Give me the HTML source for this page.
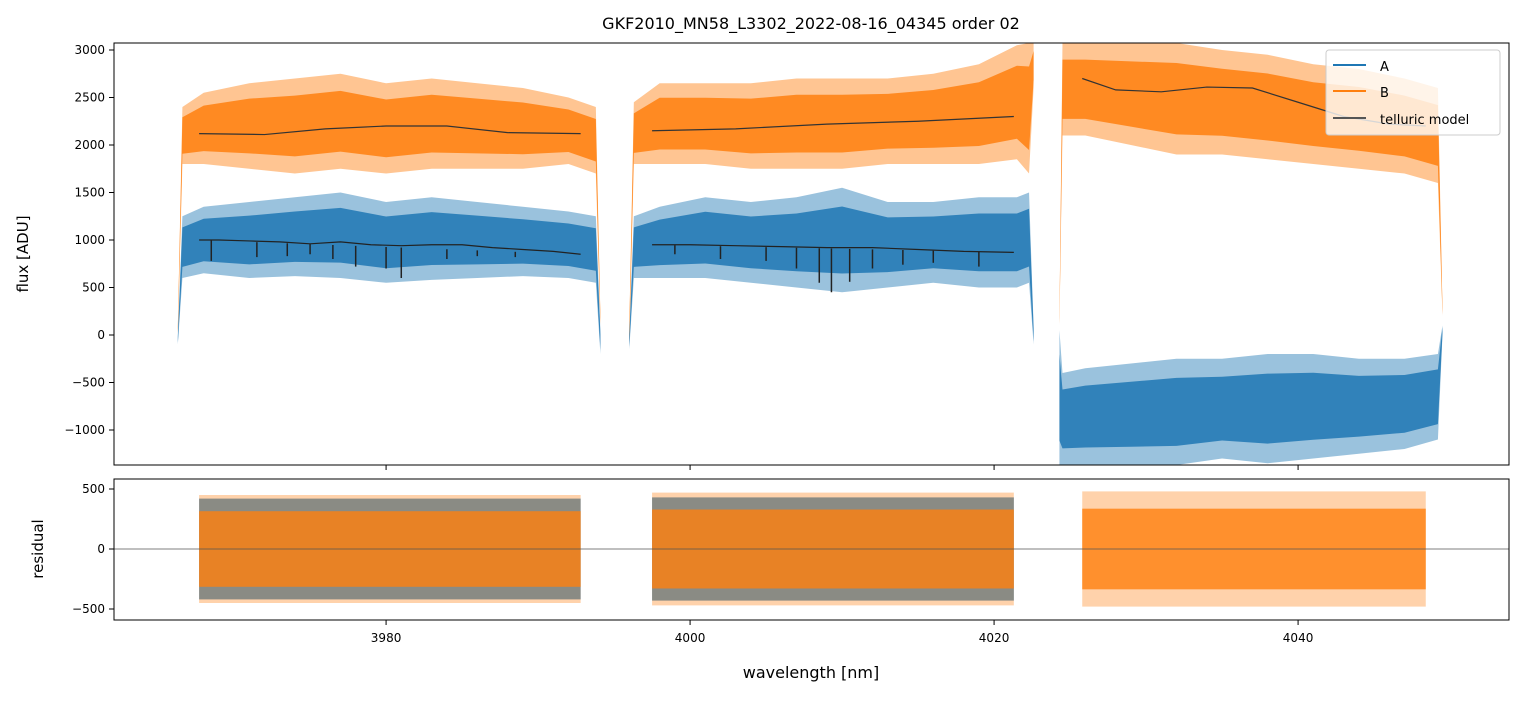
<!DOCTYPE html>
<html><head><meta charset="utf-8">
<style>
body{margin:0;background:#fff;font-family:"Liberation Sans","DejaVu Sans",sans-serif;}
svg text{font-family:"DejaVu Sans","Liberation Sans",sans-serif;}
</style></head>
<body>
<svg id="chart" width="1523" height="696" xmlns="http://www.w3.org/2000/svg">
<rect width="1523" height="696" fill="#fff"/>
<text x="811" y="29" font-size="16" text-anchor="middle">GKF2010_MN58_L3302_2022-08-16_04345  order 02</text>
<defs>
<clipPath id="clipTop"><rect x="114" y="43" width="1395" height="422"/></clipPath>
<clipPath id="clipBot"><rect x="114" y="479" width="1395" height="141"/></clipPath>
</defs>
<g id="gtop" clip-path="url(#clipTop)"></g>
<g id="gbot" clip-path="url(#clipBot)"></g>
<g id="axes"></g>
<text transform="translate(28,254) rotate(-90)" font-size="15" text-anchor="middle">flux [ADU]</text>
<text transform="translate(43,549) rotate(-90)" font-size="15" text-anchor="middle">residual</text>
<text x="811" y="678" font-size="16" text-anchor="middle">wavelength [nm]</text>
<g>
<rect x="1326" y="50" width="174" height="85" rx="3" fill="#fff" fill-opacity="0.8" stroke="#ccc"/>
<line x1="1333" y1="65" x2="1366" y2="65" stroke="#1f77b4" stroke-width="2"/>
<text x="1380" y="71" font-size="13">A</text>
<line x1="1333" y1="91" x2="1366" y2="91" stroke="#ff7f0e" stroke-width="2"/>
<text x="1380" y="97" font-size="13">B</text>
<line x1="1333" y1="118" x2="1366" y2="118" stroke="#555" stroke-width="2"/>
<text x="1380" y="124" font-size="13">telluric model</text>
</g>
</svg>
<script>
// ---- data ----
const seg1Wl=[3966.3,3966.6,3968,3971,3974,3977,3980,3983,3986,3989,3992,3993.8,3994.1];
const seg2Wl=[3996.0,3996.3,3998,4001,4004,4007,4010,4013,4016,4019,4021.5,4022.3,4022.6];
const seg3Wl=[4024.3,4024.5,4026,4029,4032,4035,4038,4041,4044,4047,4049.2,4049.5];
const aLo1=[-100,600,650,600,620,600,550,580,600,620,600,550,-200];
const aHi1=[0,1250,1350,1400,1450,1500,1400,1450,1400,1350,1300,1250,50];
const bLo1=[0,1800,1800,1750,1700,1750,1700,1750,1750,1750,1800,1700,100];
const bHi1=[100,2400,2550,2650,2700,2750,2650,2700,2650,2600,2500,2400,200];
const aLo2=[-150,600,600,600,550,500,450,500,550,500,500,550,-100];
const aHi2=[0,1250,1350,1450,1400,1450,1550,1400,1400,1450,1450,1500,100];
const bLo2=[-100,1800,1800,1800,1750,1750,1750,1800,1800,1800,1850,1700,2600];
const bHi2=[100,2450,2650,2650,2650,2700,2700,2700,2750,2850,3050,3074,3074];
const aLo3=[-1368,-1368,-1368,-1368,-1368,-1300,-1350,-1300,-1250,-1200,-1100,0];
const aHi3=[50,-400,-350,-300,-250,-250,-200,-200,-250,-250,-200,100];
const bLo3=[100,2100,2100,2000,1900,1900,1850,1800,1750,1700,1600,200];
const bHi3=[200,3074,3074,3074,3074,3000,2950,2850,2800,2700,2600,300];
const tB1Wl=[3967.7,3972,3976,3980,3984,3988,3992.8];
const tB1=[2120,2110,2170,2200,2200,2130,2120];
const tB2Wl=[3997.5,4003,4009,4015,4021.3];
const tB2=[2150,2170,2220,2250,2300];
const tB3Wl=[4025.8,4028,4031,4034,4037,4040,4043,4046,4048.4];
const tB3=[2700,2580,2560,2610,2600,2450,2300,2220,2200];
const tA1Wl=[3967.7,3969,3971,3973,3975,3977,3979,3981,3983,3985,3987,3989,3991,3992.8];
const tA1=[1000,1000,990,980,960,980,950,940,950,950,920,900,880,850];
const tA1DipWl=[3968.5,3971.5,3973.5,3975,3976.5,3978,3980,3981,3984,3986,3988.5];
const tA1Dip=[780,820,830,850,800,720,700,600,800,830,820];
const tA2Wl=[3997.5,4000,4003,4006,4009,4012,4015,4018,4021.3];
const tA2=[950,950,940,930,920,920,900,880,870];
const tA2DipWl=[3999,4002,4005,4007,4008.5,4009.3,4010.5,4012,4014,4016,4019];
const tA2Dip=[850,800,780,700,550,450,560,700,740,760,720];
const resWl=[[3967.7,3992.8],[3997.5,4021.3],[4025.8,4048.4]];
const resALim=[420,430,0];
const resBLim=[450,470,480];
const xTicks=[3980,4000,4020,4040];
const yTicksTop=[-1000,-500,0,500,1000,1500,2000,2500,3000];
const yTicksBot=[-500,0,500];
{
const X=w=>114+(w-3962.1)*15.2;
const YT=v=>335-v*0.095;
const YB=v=>549-v*0.12;
const NS='http://www.w3.org/2000/svg';
function mk(parent,tag,attrs){const e=document.createElementNS(NS,tag);for(const k in attrs)e.setAttribute(k,attrs[k]);parent.appendChild(e);return e;}
const gTop=document.getElementById('gtop'),gBot=document.getElementById('gbot'),axes=document.getElementById('axes');
function poly(g,wl,lo,hi,col,op,name){
  let p=wl.map((w,i)=>X(w)+','+YT(hi[i])).concat(wl.slice().reverse().map((w,i)=>X(w)+','+YT(lo[wl.length-1-i])));
  const e=mk(g,'polygon',{points:p.join(' '),fill:col,'fill-opacity':op});
  
  
}
function band(g,wl,lo,hi,col,name){
  poly(g,wl,lo,hi,col,0.45,name+'-envelope');
  const ilo=lo.map((l,i)=>l+(hi[i]-l)*0.18), ihi=hi.map((h,i)=>h-(h-lo[i])*0.18);
  poly(g,wl,ilo,ihi,col,0.85,name);
}
function line(g,wl,v,col,sw,name,ys){
  const e=mk(g,'polyline',{points:wl.map((w,i)=>X(w)+','+ys(v[i])).join(' '),fill:'none',stroke:col,'stroke-width':sw});
  
  
}
band(gTop,seg1Wl,bLo1,bHi1,'#ff7f0e','b-flux-segment-1');
band(gTop,seg2Wl,bLo2,bHi2,'#ff7f0e','b-flux-segment-2');
band(gTop,seg3Wl,bLo3,bHi3,'#ff7f0e','b-flux-segment-3');
band(gTop,seg1Wl,aLo1,aHi1,'#1f77b4','a-flux-segment-1');
band(gTop,seg2Wl,aLo2,aHi2,'#1f77b4','a-flux-segment-2');
band(gTop,seg3Wl,aLo3,aHi3,'#1f77b4','a-flux-segment-3');
line(gTop,tB1Wl,tB1,'#333',1.2,'telluric-b-1',YT);
line(gTop,tB2Wl,tB2,'#333',1.2,'telluric-b-2',YT);
line(gTop,tB3Wl,tB3,'#333',1.2,'telluric-b-3',YT);
line(gTop,tA1Wl,tA1,'#222',1.2,'telluric-a-1',YT);
line(gTop,tA2Wl,tA2,'#222',1.2,'telluric-a-2',YT);
[[tA1DipWl,tA1Dip,tA1Wl,tA1],[tA2DipWl,tA2Dip,tA2Wl,tA2]].forEach(([dw,dv,bw,bv])=>{
  dw.forEach((w,i)=>{
    const e=mk(gTop,'line',{x1:X(w),x2:X(w),y1:YT(bv[0]-(bv[0]-bv[bv.length-1])*(w-bw[0])/(bw[bw.length-1]-bw[0])),y2:YT(dv[i]),stroke:'#222','stroke-width':1.5});
    
    
  });
});
resWl.forEach((r,i)=>{
  if(resALim[i]>0){
    const a=mk(gBot,'rect',{x:X(r[0]),width:X(r[1])-X(r[0]),y:YB(resALim[i]),height:YB(-resALim[i])-YB(resALim[i]),fill:'#1f77b4','fill-opacity':0.8});
    
    
  }
  const bo=mk(gBot,'rect',{x:X(r[0]),width:X(r[1])-X(r[0]),y:YB(resBLim[i]),height:YB(-resBLim[i])-YB(resBLim[i]),fill:'#ff7f0e','fill-opacity':0.35});
  
  
  const b=mk(gBot,'rect',{x:X(r[0]),width:X(r[1])-X(r[0]),y:YB(resBLim[i]*0.7),height:YB(-resBLim[i]*0.7)-YB(resBLim[i]*0.7),fill:'#ff7f0e','fill-opacity':0.8});
  
  
});
const z=mk(gBot,'line',{x1:114,x2:1509,y1:YB(0),y2:YB(0),stroke:'#555','stroke-width':0.7});


[[43,465],[479,620]].forEach(([y0,y1])=>{
  const f=mk(axes,'rect',{x:114,y:y0,width:1395,height:y1-y0,fill:'none',stroke:'#000','stroke-width':1});
  
  
});
xTicks.forEach(t=>{
  mk(axes,'line',{x1:X(t),x2:X(t),y1:465,y2:470,stroke:'#000'});
  mk(axes,'line',{x1:X(t),x2:X(t),y1:620,y2:625,stroke:'#000'});
  const e=mk(axes,'text',{x:X(t),y:642,'font-size':12,'text-anchor':'middle'});e.textContent=t;
  
  
});
yTicksTop.forEach(t=>{
  mk(axes,'line',{x1:109,x2:114,y1:YT(t),y2:YT(t),stroke:'#000'});
  const e=mk(axes,'text',{x:105,y:YT(t)+4,'font-size':12,'text-anchor':'end'});e.textContent=t<0?'\u2212'+(-t):t;
  
  
});
yTicksBot.forEach(t=>{
  mk(axes,'line',{x1:109,x2:114,y1:YB(t),y2:YB(t),stroke:'#000'});
  const e=mk(axes,'text',{x:105,y:YB(t)+4,'font-size':12,'text-anchor':'end'});e.textContent=t<0?'\u2212'+(-t):t;
  
  
});
}
</script>
</body></html>
